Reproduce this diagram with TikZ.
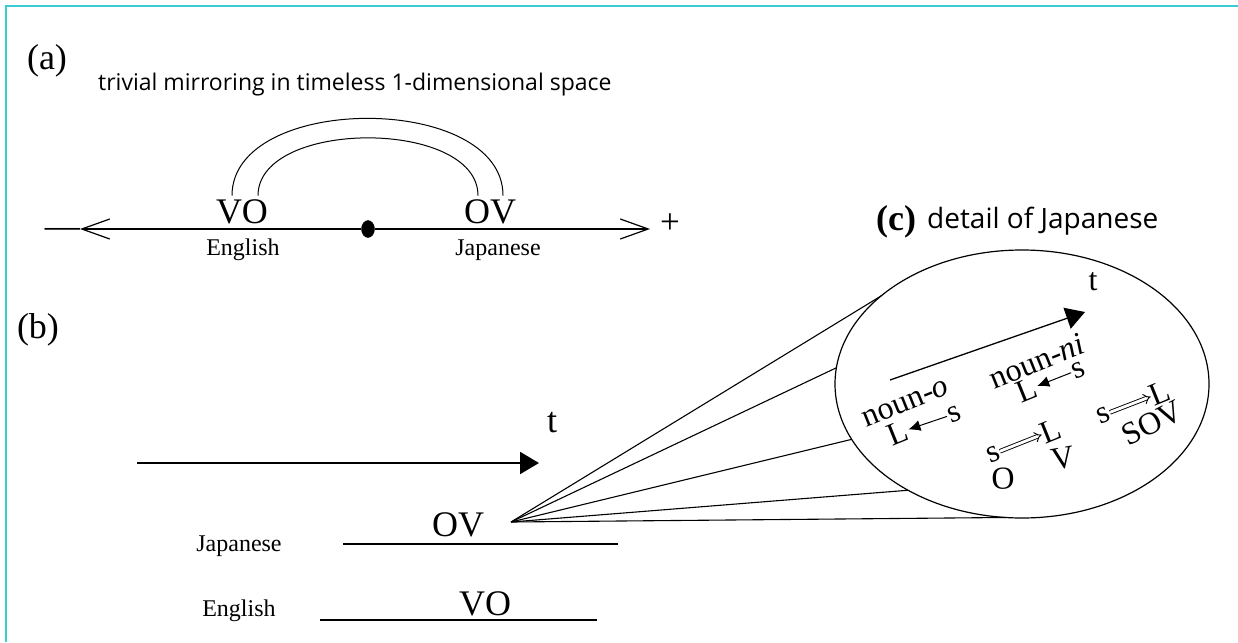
\documentclass[tikz,border=0pt]{standalone}
\usepackage{fontspec}
\setmainfont{Liberation Serif}
\newfontfamily\capsans{Open Sans}
\usetikzlibrary{arrows.meta,positioning,shapes.geometric}
\definecolor{FrameCyan}{RGB}{58,204,212}
\tikzset{
  frameline/.style={draw=FrameCyan, line width=2.2pt},
  axis/.style={line width=2pt},
  barb/.style={-{Straight Barb[length=28pt,width=20pt,line width=1.2pt]}},
  mirror/.style={line width=1pt},
  tag/.style={font=\fontsize{36}{36}\selectfont, inner sep=0pt},
  subcap/.style={font=\capsans\fontsize{23}{23}\selectfont, inner sep=0pt},
  order/.style={font=\fontsize{36}{36}\selectfont, inner sep=0pt},
  lang/.style={font=\fontsize{24}{24}\selectfont, inner sep=0pt},
  sign/.style={font=\fontsize{35}{35}\selectfont, inner sep=0pt},
  dot/.style={draw, fill, ellipse, minimum width=13pt, minimum height=17pt, inner sep=0pt},
  timearrow/.style={line width=2pt, -{Triangle[length=19pt,width=22pt]}},
  tlabel/.style={font=\fontsize{36}{36}\selectfont, inner sep=0pt},
  track/.style={line width=2.7pt},
  lens/.style={draw, ellipse, line width=1.2pt, minimum width=374pt, minimum height=268pt, inner sep=0pt, outer sep=0pt},
  ray/.style={line width=1.1pt},
  gloss/.style={font=\fontsize{32}{32}\selectfont, inner sep=0pt, rotate=22},
  bind/.style={-{Latex[length=12pt,width=11pt]}, line width=1pt, shorten <=1pt, shorten >=1pt},
  fuse/.style={double, double distance=2.8pt, line width=0.9pt, -{Implies[scale=1.7]}, shorten <=1pt}
}

\begin{document}
\begin{tikzpicture}[x=1pt,y=-1pt]
\useasboundingbox (0,0) rectangle (1238,642);
\draw[frameline] (6,642) -- (6,6) -- (1238,6);

% (a) mirroring on the line
\node[tag] (atag) at (47,61) {(a)};
\node[subcap, anchor=base west] (acap) at (98,90) {trivial mirroring in timeless 1-dimensional space};
\node[dot] (mid) at (368,229) {};
\coordinate (negtip) at (80,229);
\coordinate (postip) at (650,229);
\node[sign, anchor=base east] (neg) at (80,237) {—};
\node[sign] (pos) at (670,224) {+};
\draw[axis, barb] (mid) -- (negtip);
\draw[axis, barb] (mid) -- (postip);
\node[order] (vo) at (242,212) {VO};
\node[lang] (en) at (243,250) {English};
\node[order] (ov) at (490,212) {OV};
\node[lang] (ja) at (498,250) {Japanese};
\coordinate (voout) at ([shift={(-10pt,4pt)}]vo.north);
\coordinate (voin) at ([shift={(16pt,4pt)}]vo.north);
\coordinate (ovin) at ([shift={(-12pt,4pt)}]ov.north);
\coordinate (ovout) at ([shift={(13pt,4pt)}]ov.north);
\draw[mirror] (voout) .. controls +(0,-103) and +(0,-103) .. (ovout);
\draw[mirror] (voin) .. controls +(0,-77) and +(0,-77) .. (ovin);

% (b) time line
\node[tag] (btag) at (38,330) {(b)};
\coordinate (tstart) at (137,463);
\coordinate (tend) at (539,463);
\draw[timearrow] (tstart) -- (tend);
\node[tlabel] (t) at (552,423) {t};
\node[order] (ovb) at (458,525) {OV};
\node[lang] (jab) at (239,546) {Japanese};
\draw[track] (343,544) -- (618,544);
\node[order] (vob) at (485,604) {VO};
\node[lang] (enb) at (239,611) {English};
\draw[track] (320,620) -- (597,620);
\coordinate (focus) at (511,522);

% (c) zoomed lens
\node[tag, font=\bfseries\fontsize{36}{36}\selectfont] (ctag) at (896,222) {(c)};
\node[subcap, font=\capsans\fontsize{28}{28}\selectfont, anchor=base west] (ccap) at (927,228) {detail of Japanese};
\node[lens] (lens) at (1022,384) {};
\foreach \a in {148.5,175,198,223.5,263.5}
  \draw[ray] (focus) -- (lens.\a);
\coordinate (lt0) at (890,380);
\coordinate (lt1) at (1085,312);
\draw[timearrow, line width=1.3pt] (lt0) -- (lt1);
\node[tlabel, font=\fontsize{32}{32}\selectfont] (tc) at (1093,282) {t};

\node[gloss] (nouno) at (906,404) {noun-\textit{o}};
\node[gloss] (Lo) at (898,433) {L};
\node[gloss] (so) at (954,414) {s};
\draw[bind] (so) -- (Lo);

\node[gloss] (nounni) at (1037,361) {noun-\textit{ni}};
\node[gloss] (Lni) at (1027,390) {L};
\node[gloss] (sni) at (1078,370) {s};
\draw[bind] (sni) -- (Lni);

\node[gloss] (sm) at (993,454) {s};
\node[gloss] (Lm) at (1051,431) {L};
\node[gloss, rotate=-20] (Om) at (1003,479) {O};
\node[gloss, rotate=-12] (Vm) at (1063,458) {V};
\draw[fuse] (sm) -- (Lm);

\node[gloss] (sr) at (1103,415) {s};
\node[gloss] (Lr) at (1160,393) {L};
\node[gloss, rotate=5] (sov) at (1152,423) {SOV};
\draw[fuse] (sr) -- (Lr);
\end{tikzpicture}
\end{document}
